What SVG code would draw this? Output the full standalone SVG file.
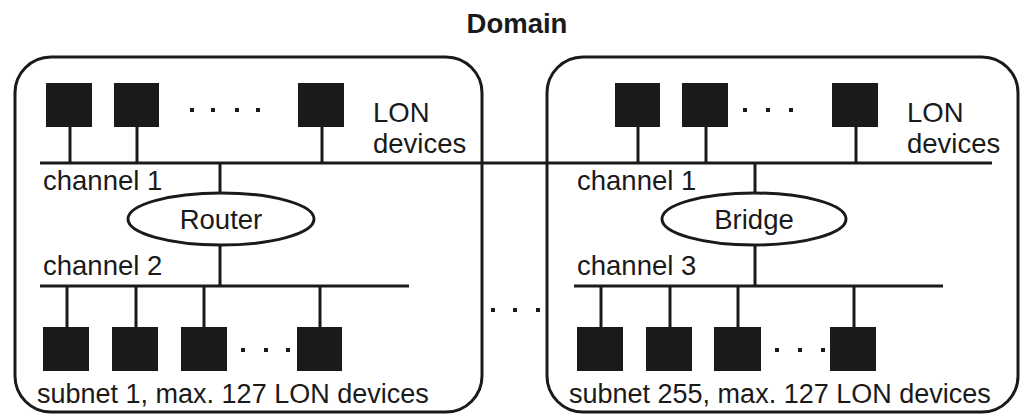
<svg xmlns="http://www.w3.org/2000/svg" width="1020" height="416" viewBox="0 0 1020 416">
<style>
.box{fill:none;stroke:#1a1a1a;stroke-width:3}
.ln{stroke:#1a1a1a;stroke-width:3;fill:none}
.dev{fill:#1a1a1a}
.dot{fill:#1a1a1a}
.t{font-family:"Liberation Sans",Arial,sans-serif;font-size:27.5px;fill:#1a1a1a}
.s{font-size:27px}
.b{font-weight:bold}
.ell{fill:#fff;stroke:#1a1a1a;stroke-width:3}
</style>
<rect width="1020" height="416" fill="#fff"/>
<text class="t b" x="517" y="33" text-anchor="middle">Domain</text>
<g id="subnet1">
<rect class="box" x="15" y="57" width="467" height="355" rx="36" ry="36"/>
<text class="t" x="373" y="122">LON</text>
<text class="t" x="373" y="153">devices</text>
<text class="t" x="43" y="190">channel 1</text>
<text class="t" x="43" y="275">channel 2</text>
<text class="t s" x="37" y="403">subnet 1, max. 127 LON devices</text>
</g>
<g id="subnet255">
<rect class="box" x="547" y="57" width="471" height="355" rx="36" ry="36"/>
<text class="t" x="907" y="122">LON</text>
<text class="t" x="907" y="153">devices</text>
<text class="t" x="577" y="190">channel 1</text>
<text class="t" x="577" y="275">channel 3</text>
<text class="t s" x="569" y="403">subnet 255, max. 127 LON devices</text>
</g>
<g id="connectors">
<line class="ln" x1="40" y1="163" x2="992" y2="163"/>
<line class="ln" x1="40" y1="286" x2="409" y2="286"/>
<line class="ln" x1="574" y1="286" x2="943" y2="286"/>
<path class="ln" d="M70 127V163M137 127V163M322 127V163M220 163V193M220 245V286M67 286V327M136 286V327M204 286V327M320 286V327"/>
<path class="ln" d="M638 127V163M706 127V163M856 127V163M755 163V193M755 245V286M601 286V327M670 286V327M738 286V327M854 286V327"/>
</g>
<g id="router">
<ellipse class="ell" cx="221" cy="219" rx="93" ry="26"/>
<text class="t" x="221" y="229" text-anchor="middle">Router</text>
</g>
<g id="bridge">
<ellipse class="ell" cx="754" cy="219" rx="92" ry="26"/>
<text class="t" x="754" y="229" text-anchor="middle">Bridge</text>
</g>
<g id="devices-top-left">
<rect class="dev" x="46" y="83" width="46" height="44"/>
<rect class="dev" x="114" y="83" width="45" height="44"/>
<rect class="dev" x="298" y="83" width="46" height="44"/>
<rect class="dot" x="190" y="108" width="4" height="4"/>
<rect class="dot" x="211" y="108" width="4" height="4"/>
<rect class="dot" x="235" y="108" width="4" height="4"/>
<rect class="dot" x="256" y="108" width="4" height="4"/>
</g>
<g id="devices-bottom-left">
<rect class="dev" x="43" y="327" width="46" height="44"/>
<rect class="dev" x="112" y="327" width="46" height="44"/>
<rect class="dev" x="181" y="327" width="46" height="44"/>
<rect class="dev" x="297" y="327" width="45" height="44"/>
<rect class="dot" x="241" y="348" width="4" height="4"/>
<rect class="dot" x="264" y="348" width="4" height="4"/>
<rect class="dot" x="286" y="348" width="4" height="4"/>
</g>
<g id="devices-top-right">
<rect class="dev" x="615" y="83" width="45" height="44"/>
<rect class="dev" x="682" y="83" width="46" height="44"/>
<rect class="dev" x="832" y="83" width="46" height="44"/>
<rect class="dot" x="743" y="108" width="4" height="4"/>
<rect class="dot" x="766" y="108" width="4" height="4"/>
<rect class="dot" x="789" y="108" width="4" height="4"/>
</g>
<g id="devices-bottom-right">
<rect class="dev" x="577" y="327" width="46" height="44"/>
<rect class="dev" x="646" y="327" width="46" height="44"/>
<rect class="dev" x="714" y="327" width="47" height="44"/>
<rect class="dev" x="830" y="327" width="46" height="44"/>
<rect class="dot" x="775" y="348" width="4" height="4"/>
<rect class="dot" x="798" y="348" width="4" height="4"/>
<rect class="dot" x="821" y="348" width="4" height="4"/>
</g>
<g id="between-dots">
<rect class="dot" x="491" y="308" width="4" height="4"/>
<rect class="dot" x="513" y="308" width="4" height="4"/>
<rect class="dot" x="536" y="308" width="4" height="4"/>
</g>
</svg>
